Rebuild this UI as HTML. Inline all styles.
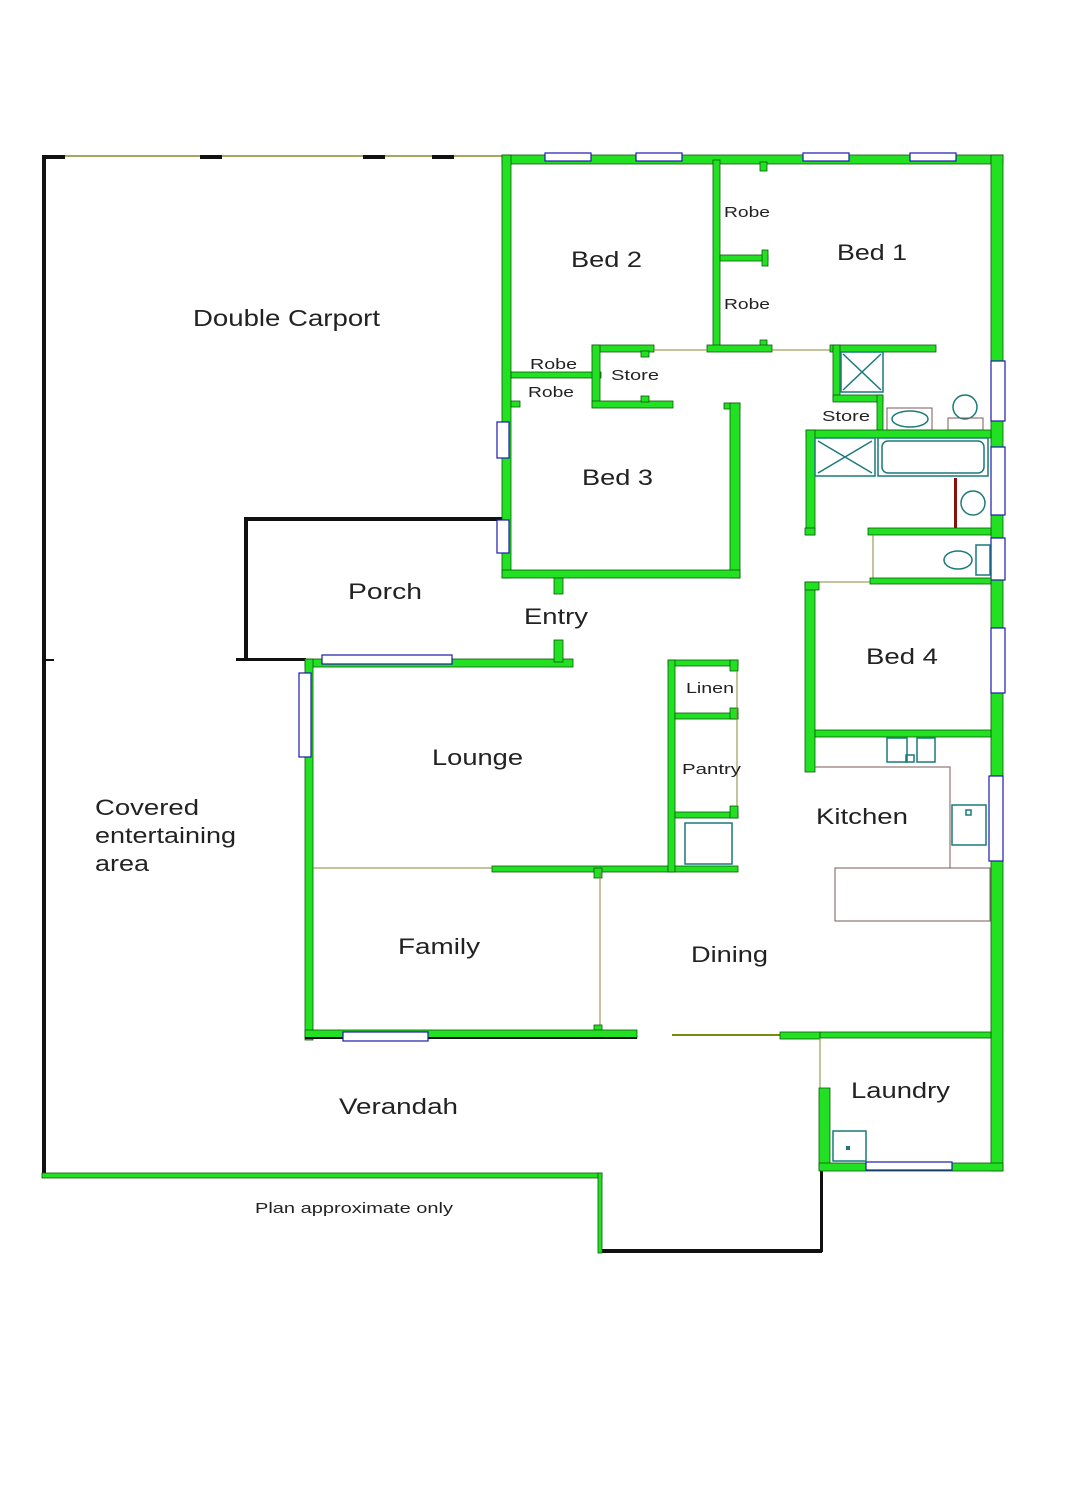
<!DOCTYPE html>
<html><head><meta charset="utf-8"><style>
html,body{margin:0;padding:0;background:#fff;}
svg{display:block;}
.w{fill:#22e022;stroke:#0b5a0b;stroke-width:0.8;}
.b{fill:#111;}
.win{fill:#fff;stroke:#1a1ab0;stroke-width:1.2;}
.t{font-family:"Liberation Sans",Arial,sans-serif;fill:#222;}
.fx{fill:none;stroke:#1a7a7a;stroke-width:1.5;}
.ln{stroke:#8a8a3a;stroke-width:1;fill:none;}
.kb{stroke:#7a5a5a;stroke-width:1;fill:none;}
</style></head><body>
<svg width="1076" height="1500" viewBox="0 0 1076 1500" xmlns="http://www.w3.org/2000/svg">
<rect width="1076" height="1500" fill="#fff"/>

<line x1="44" y1="156" x2="502" y2="156" stroke="#8a8a2a" stroke-width="1.5"/>
<rect class="b" x="43" y="155" width="22" height="4"/><rect class="b" x="200" y="155" width="22" height="4"/><rect class="b" x="363" y="155" width="22" height="4"/><rect class="b" x="432" y="155" width="22" height="4"/>
<rect class="b" x="42" y="155" width="4" height="1022"/>
<rect class="b" x="244" y="517" width="4" height="144"/>
<rect class="b" x="244" y="517" width="258" height="4"/>
<rect class="b" x="236" y="658" width="70" height="3"/>
<rect class="b" x="42" y="659" width="12" height="2"/>
<rect class="b" x="598" y="1175" width="3" height="78"/>
<rect class="b" x="598" y="1249" width="224" height="4"/>
<rect class="b" x="820" y="1168" width="3" height="84"/>
<rect class="w" x="42" y="1173" width="560" height="5"/>
<rect class="w" x="598" y="1173" width="4" height="80"/>

<rect class="w" x="502" y="155" width="501" height="9"/>
<rect class="win" x="545" y="153" width="46" height="8"/>
<rect class="win" x="636" y="153" width="46" height="8"/>
<rect class="win" x="803" y="153" width="46" height="8"/>
<rect class="win" x="910" y="153" width="46" height="8"/>
<rect class="w" x="991" y="155" width="12" height="1016"/>
<rect class="win" x="991" y="361" width="14" height="60"/>
<rect class="win" x="991" y="447" width="14" height="68"/>
<rect class="win" x="991" y="538" width="14" height="42"/>
<rect class="win" x="991" y="628" width="14" height="65"/>
<rect class="win" x="989" y="776" width="14" height="85"/>
<rect class="w" x="502" y="155" width="9" height="423"/>
<rect class="win" x="497" y="422" width="12" height="36"/>
<rect class="win" x="497" y="520" width="12" height="33"/>
<rect class="w" x="713" y="160" width="7" height="190"/>
<rect class="w" x="720" y="255" width="48" height="6"/>
<rect class="w" x="762" y="250" width="6" height="16"/>
<rect class="w" x="760" y="162" width="7" height="9"/>
<rect class="w" x="760" y="340" width="7" height="8"/>
<rect class="w" x="592" y="345" width="62" height="7"/>
<rect class="w" x="707" y="345" width="65" height="7"/>
<line class="ln" x1="654" y1="350" x2="707" y2="350"/>
<line class="ln" x1="772" y1="350" x2="830" y2="350"/>
<rect class="w" x="830" y="345" width="106" height="7"/>
<rect class="w" x="511" y="372" width="90" height="6"/>
<rect class="w" x="592" y="345" width="8" height="62"/>
<rect class="w" x="592" y="401" width="81" height="7"/>
<rect class="w" x="511" y="401" width="9" height="6"/>
<rect class="w" x="641" y="396" width="8" height="6"/>
<rect class="w" x="641" y="351" width="8" height="6"/>
<rect class="w" x="724" y="403" width="16" height="6"/>
<rect class="w" x="730" y="403" width="10" height="175"/>
<rect class="w" x="502" y="570" width="238" height="8"/>
<rect class="w" x="554" y="578" width="9" height="16"/>
<rect class="w" x="305" y="659" width="268" height="8"/>
<rect class="win" x="322" y="655" width="130" height="9"/>
<rect class="w" x="554" y="640" width="9" height="22"/>
<rect class="w" x="305" y="659" width="8" height="381"/>
<rect class="win" x="299" y="673" width="12" height="84"/>
<line class="ln" x1="313" y1="868" x2="492" y2="868"/>
<rect class="w" x="492" y="866" width="246" height="6"/>
<rect class="w" x="594" y="868" width="8" height="10"/>
<rect class="w" x="668" y="660" width="70" height="6"/>
<rect class="w" x="668" y="660" width="7" height="212"/>
<rect class="w" x="675" y="713" width="63" height="6"/>
<rect class="w" x="675" y="812" width="63" height="6"/>
<rect class="w" x="730" y="660" width="8" height="11"/>
<rect class="w" x="730" y="708" width="8" height="11"/>
<rect class="w" x="730" y="806" width="8" height="12"/>
<line class="ln" x1="737" y1="671" x2="737" y2="806"/>
<rect class="fx" x="685" y="823" width="47" height="41"/>
<line class="ln" x1="600" y1="872" x2="600" y2="1030"/>
<rect class="w" x="594" y="1025" width="8" height="8"/>
<rect class="w" x="305" y="1030" width="332" height="8"/>
<rect class="b" x="305" y="1037" width="332" height="2"/>
<rect class="win" x="343" y="1032" width="85" height="9"/>
<line x1="672" y1="1035" x2="780" y2="1035" stroke="#7a8a10" stroke-width="2"/>
<rect class="w" x="780" y="1032" width="40" height="7"/>
<rect class="w" x="820" y="1032" width="171" height="6"/>
<line class="ln" x1="820" y1="1038" x2="820" y2="1090"/>
<rect class="w" x="819" y="1088" width="11" height="82"/>
<rect class="w" x="819" y="1163" width="184" height="8"/>
<rect class="win" x="866" y="1162" width="86" height="8"/>
<rect class="fx" x="833" y="1131" width="33" height="30"/>
<rect x="846" y="1146" width="4" height="4" fill="#1a7a7a"/>

<rect class="w" x="833" y="345" width="7" height="55"/>
<rect class="w" x="833" y="395" width="50" height="7"/>
<rect class="w" x="877" y="395" width="6" height="38"/>
<rect class="fx" x="841" y="352" width="42" height="40"/>
<path class="fx" d="M843 354 L881 390 M881 354 L843 390"/>
<rect class="kb" x="887" y="408" width="45" height="22"/>
<ellipse class="fx" cx="910" cy="419" rx="18" ry="8"/>
<ellipse class="fx" cx="965" cy="407" rx="12" ry="12"/>
<rect class="kb" x="948" y="418" width="35" height="12"/>
<rect class="w" x="806" y="430" width="185" height="8"/>
<rect class="w" x="806" y="430" width="9" height="105"/>
<rect class="w" x="805" y="528" width="10" height="7"/>
<rect class="fx" x="815" y="438" width="60" height="38"/>
<path class="fx" d="M818 441 L872 473 M872 441 L818 473"/>
<rect class="fx" x="878" y="438" width="110" height="38"/>
<rect class="fx" x="882" y="441" width="102" height="32" rx="6"/>
<rect x="954" y="478" width="3" height="50" fill="#8a1010"/>
<circle class="fx" cx="973" cy="503" r="12"/>
<rect class="w" x="868" y="528" width="123" height="7"/>
<line class="ln" x1="873" y1="535" x2="873" y2="580"/>
<ellipse class="fx" cx="958" cy="560" rx="14" ry="9"/>
<rect class="fx" x="976" y="545" width="14" height="30"/>
<rect class="w" x="870" y="578" width="121" height="6"/>
<line class="ln" x1="815" y1="582" x2="870" y2="582"/>
<rect class="w" x="805" y="582" width="10" height="190"/>
<rect class="w" x="805" y="582" width="14" height="8"/>
<rect class="w" x="815" y="730" width="176" height="7"/>
<path class="kb" d="M815 767 L950 767 L950 868"/>
<rect class="kb" x="835" y="868" width="155" height="53"/>
<rect class="fx" x="887" y="738" width="20" height="24"/><rect class="fx" x="917" y="738" width="18" height="24"/><rect class="fx" x="906" y="755" width="8" height="7"/>
<rect class="fx" x="952" y="805" width="34" height="40"/>
<rect class="fx" x="966" y="810" width="5" height="5"/>

<g lengthAdjust="spacingAndGlyphs">
<text class="t" x="193" y="326" font-size="23" textLength="187" lengthAdjust="spacingAndGlyphs">Double Carport</text>
<text class="t" x="571" y="267" font-size="22" textLength="71" lengthAdjust="spacingAndGlyphs">Bed 2</text>
<text class="t" x="837" y="260" font-size="22" textLength="70" lengthAdjust="spacingAndGlyphs">Bed 1</text>
<text class="t" x="724" y="217" font-size="15" textLength="46" lengthAdjust="spacingAndGlyphs">Robe</text>
<text class="t" x="724" y="309" font-size="15" textLength="46" lengthAdjust="spacingAndGlyphs">Robe</text>
<text class="t" x="530" y="369" font-size="15" textLength="47" lengthAdjust="spacingAndGlyphs">Robe</text>
<text class="t" x="528" y="397" font-size="15" textLength="46" lengthAdjust="spacingAndGlyphs">Robe</text>
<text class="t" x="611" y="380" font-size="15" textLength="48" lengthAdjust="spacingAndGlyphs">Store</text>
<text class="t" x="822" y="421" font-size="15" textLength="48" lengthAdjust="spacingAndGlyphs">Store</text>
<text class="t" x="582" y="485" font-size="22" textLength="71" lengthAdjust="spacingAndGlyphs">Bed 3</text>
<text class="t" x="348" y="599" font-size="22" textLength="74" lengthAdjust="spacingAndGlyphs">Porch</text>
<text class="t" x="524" y="624" font-size="22" textLength="64" lengthAdjust="spacingAndGlyphs">Entry</text>
<text class="t" x="866" y="664" font-size="22" textLength="72" lengthAdjust="spacingAndGlyphs">Bed 4</text>
<text class="t" x="686" y="693" font-size="15" textLength="48" lengthAdjust="spacingAndGlyphs">Linen</text>
<text class="t" x="682" y="774" font-size="15" textLength="59" lengthAdjust="spacingAndGlyphs">Pantry</text>
<text class="t" x="432" y="765" font-size="22" textLength="91" lengthAdjust="spacingAndGlyphs">Lounge</text>
<text class="t" x="816" y="824" font-size="22" textLength="92" lengthAdjust="spacingAndGlyphs">Kitchen</text>
<text class="t" x="95" y="815" font-size="22" textLength="104" lengthAdjust="spacingAndGlyphs">Covered</text>
<text class="t" x="95" y="843" font-size="22" textLength="141" lengthAdjust="spacingAndGlyphs">entertaining</text>
<text class="t" x="95" y="871" font-size="22" textLength="54" lengthAdjust="spacingAndGlyphs">area</text>
<text class="t" x="398" y="954" font-size="22" textLength="82" lengthAdjust="spacingAndGlyphs">Family</text>
<text class="t" x="691" y="962" font-size="22" textLength="77" lengthAdjust="spacingAndGlyphs">Dining</text>
<text class="t" x="851" y="1098" font-size="22" textLength="99" lengthAdjust="spacingAndGlyphs">Laundry</text>
<text class="t" x="339" y="1114" font-size="22" textLength="119" lengthAdjust="spacingAndGlyphs">Verandah</text>
<text class="t" x="255" y="1213" font-size="15" textLength="198" lengthAdjust="spacingAndGlyphs">Plan approximate only</text>
</g>
</svg>
</body></html>
